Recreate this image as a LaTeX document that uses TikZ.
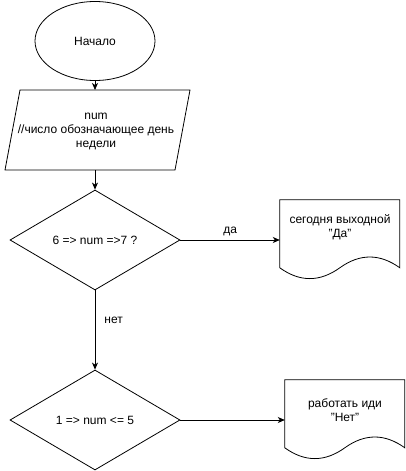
\documentclass[tikz,border=0pt]{standalone}
\usepackage{fontspec}
\setmainfont{Liberation Sans}
\usetikzlibrary{shapes.geometric,arrows.meta}

\newcommand{\qq}[1]{\symbol{34}#1\symbol{34}}

\begin{document}
\begin{tikzpicture}[x=1pt,y=-1pt,
  every node/.style={font=\fontsize{12}{14}\selectfont, inner sep=0pt, align=center},
  line/.style={line width=0.8pt},
  startend/.style={ellipse, draw, line width=0.8pt, minimum width=120pt, minimum height=79pt},
  decision/.style={diamond, draw, line width=0.8pt, minimum width=170pt, minimum height=100pt, aspect=1.7},
  docbox/.style={rectangle, minimum width=120pt, minimum height=80pt},
  flow/.style={line, -{Stealth[length=7pt,width=6pt,inset=2pt]}}
]
\useasboundingbox (0,0) rectangle (406,471);

% start
\node[startend] (start) at (95,41) {};
\node (starttxt) at (95,41) {Начало};

% input: parallelogram
\draw[line] (20,90) -- (190,90) -- (175,170) -- (5,170) -- cycle;
\coordinate (intop) at (95,90);
\coordinate (inbot) at (95,170);
\node (intxt) at (96,131) {num\\//число обозначающее день\\недели};

% decisions
\node[decision] (dec1) at (95,240) {6 => num =>7 ?};
\node[decision] (dec2) at (95,420) {1 => num <= 5};

% document outputs
\node[docbox] (doc1) at (340,240) {};
\node[docbox] (doc2) at (345,420) {};
\foreach \d in {doc1,doc2}{
  \draw[line, shift={(\d.north west)}] (0,0) -- (120,0) -- (120,68)
    .. controls (100,53.6) and (80,53.6) .. (60,68)
    .. controls (40,82.4) and (20,82.4) .. (0,68) -- cycle;
}
\node (doc1txt) at (340,227) {сегодня выходной\\\qq{Да}};
\node (doc2txt) at (345,410) {работать иди\\\qq{Нет}};

% connectors
\draw[flow] (start.south) -- (intop);
\draw[flow] (inbot) -- (dec1.north);
\draw[flow] (dec1.east) -- node[above=4pt] (yes) {да} (doc1.west);
\draw[flow] (dec1.south) -- node[right=9pt, pos=0.38] (no) {нет} (dec2.north);
\draw[flow] (dec2.east) -- (doc2.west);
\end{tikzpicture}
\end{document}
